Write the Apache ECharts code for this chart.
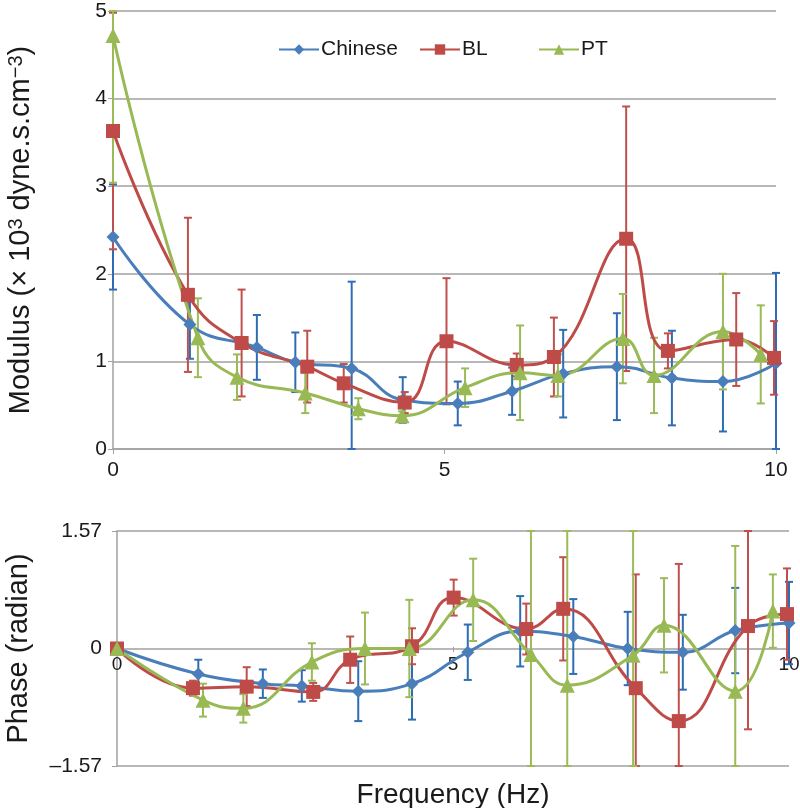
<!DOCTYPE html>
<html><head><meta charset="utf-8">
<script src="https://cdn.jsdelivr.net/npm/echarts@6/dist/echarts.min.js"></script>
<style>html,body{margin:0;padding:0;background:#fff}#c{width:800px;height:808px}</style>
</head><body><div id="c"></div>
<script>
// ---- Modulus panel data (×10^3 dyne.s.cm^-3) ----
const modChineseX = [0, 1.16, 2.17, 2.75, 3.6, 4.37, 5.2, 6.02, 6.79, 7.6, 8.43, 9.2, 10];
const modChinese  = [2.42, 1.42, 1.16, 0.99, 0.92, 0.56, 0.52, 0.66, 0.86, 0.94, 0.81, 0.77, 0.98];
const modChineseErr = [0.6, 0.39, 0.37, 0.34, 0.99, 0.26, 0.25, 0.27, 0.5, 0.61, 0.54, 0.57, 1.03];

const modBLX = [0, 1.13, 1.94, 2.93, 3.48, 4.4, 5.03, 6.09, 6.65, 7.74, 8.37, 9.4, 9.97];
const modBL  = [3.63, 1.76, 1.21, 0.94, 0.75, 0.53, 1.23, 0.96, 1.05, 2.40, 1.12, 1.25, 1.04];
const modBLErr = [1.35, 0.88, 0.61, 0.41, 0.22, 0.12, 0.72, 0.13, 0.45, 1.51, 0.2, 0.53, 0.42];

const modPTX = [0, 1.28, 1.87, 2.9, 3.7, 4.36, 5.31, 6.14, 6.71, 7.69, 8.16, 9.2, 9.77];
const modPT  = [4.72, 1.27, 0.82, 0.64, 0.46, 0.38, 0.70, 0.87, 0.84, 1.26, 0.84, 1.34, 1.08];
const modPTErr = [1.68, 0.45, 0.26, 0.23, 0.12, 0.05, 0.22, 0.54, 0.24, 0.51, 0.43, 0.66, 0.56];

// ---- Phase panel data (radian) ----
const phChineseX = [0, 1.21, 2.17, 2.75, 3.59, 4.39, 5.22, 6.0, 6.79, 7.6, 8.42, 9.2, 10];
const phChinese  = [0, -0.34, -0.47, -0.50, -0.57, -0.47, -0.05, 0.23, 0.16, 0.0, -0.05, 0.24, 0.34];
const phChineseErr = [0, 0.19, 0.19, 0.21, 0.4, 0.48, 0.37, 0.47, 0.5, 0.49, 0.5, 0.57, 0.55];

const phBLX = [0, 1.13, 1.93, 2.92, 3.47, 4.39, 5.01, 6.09, 6.64, 7.72, 8.36, 9.39, 9.97];
const phBL  = [0, -0.53, -0.51, -0.58, -0.15, 0.03, 0.68, 0.26, 0.53, -0.53, -0.97, 0.30, 0.46];
const phBLErr = [0, 0.1, 0.26, 0.12, 0.31, 0.24, 0.24, 0.34, 0.69, 1.52, 2.1, 1.38, 0.61];

const phPTX = [0, 1.28, 1.88, 2.9, 3.69, 4.35, 5.3, 6.16, 6.7, 7.68, 8.14, 9.2, 9.76];
const phPT  = [0, -0.69, -0.80, -0.18, 0.0, 0.0, 0.65, -0.08, -0.49, -0.09, 0.31, -0.57, 0.50];
const phPTErr = [0, 0.22, 0.19, 0.25, 0.48, 0.65, 0.55, 2.0, 2.3, 2.0, 0.63, 1.94, 0.49];

const modTicks = [0, 1, 2, 3, 4, 5];
const phaseTicks = [-1.57, 0, 1.57];
const freqTicks = [0, 5, 10];
const names = ['Chinese', 'BL', 'PT'];

const lineColors = ['#4A7EBB', '#BE4B48', '#98B954'];
const errColors = ['#2E6DB4', '#C0504D', '#9BBB59'];
const symbols = ['diamond', 'rect', 'triangle'];
const symbolSizes = [13, 14, 15];
const FONT = 'Liberation Sans, Arial, sans-serif';
const GRAY = '#A0A0A0';
const TXT = '#1a1a1a';

function pts(xs, vs) { return xs.map((x, i) => [x, vs[i]]); }
function errPts(xs, vs, es) {
  const out = [];
  xs.forEach((x, i) => { if (es[i] > 0) out.push([x, vs[i] - es[i], vs[i] + es[i]]); });
  return out;
}
function errRender(color) {
  return function (params, api) {
    const x = api.value(0), lo = api.value(1), hi = api.value(2);
    const cs = params.coordSys;
    const p1 = api.coord([x, hi]), p2 = api.coord([x, lo]);
    const top = Math.max(cs.y, p1[1]), bot = Math.min(cs.y + cs.height, p2[1]);
    const px = p1[0], w = 4;
    const st = { stroke: color, lineWidth: 2 };
    return { type: 'group', children: [
      { type: 'line', shape: { x1: px, y1: top, x2: px, y2: bot }, style: st },
      { type: 'line', shape: { x1: px - w, y1: top, x2: px + w, y2: top }, style: st },
      { type: 'line', shape: { x1: px - w, y1: bot, x2: px + w, y2: bot }, style: st }
    ]};
  };
}

const panels = [
  { xs: [modChineseX, modBLX, modPTX], vs: [modChinese, modBL, modPT], es: [modChineseErr, modBLErr, modPTErr] },
  { xs: [phChineseX, phBLX, phPTX], vs: [phChinese, phBL, phPT], es: [phChineseErr, phBLErr, phPTErr] }
];

const series = [];
panels.forEach((p, g) => {
  for (let k = 0; k < 3; k++) {
    series.push({
      type: 'custom', name: names[k] + ' err', xAxisIndex: g, yAxisIndex: g,
      renderItem: errRender(errColors[k]), encode: { x: 0, y: [1, 2] },
      data: errPts(p.xs[k], p.vs[k], p.es[k]), z: 2, silent: true
    });
  }
  for (let k = 0; k < 3; k++) {
    series.push({
      type: 'line', name: names[k], xAxisIndex: g, yAxisIndex: g,
      data: pts(p.xs[k], p.vs[k]), smooth: 0.45,
      symbol: symbols[k], symbolSize: symbolSizes[k],
      lineStyle: { color: lineColors[k], width: 3 },
      itemStyle: { color: lineColors[k] }, z: 3
    });
  }
});

const legendLefts = [273, 414, 533];
const legends = names.map((n, i) => ({
  data: [n], left: legendLefts[i], top: 34, itemWidth: 40, itemHeight: 13, itemGap: 0,
  textStyle: { fontSize: 21, color: TXT, fontFamily: FONT, padding: [0, 0, 0, -3] }
}));

const gridBase = { outerBoundsMode: 'none', containLabel: false };

const option = {
  animation: false,
  backgroundColor: '#fff',
  textStyle: { fontFamily: FONT },
  title: {
    text: 'Frequency (Hz)', left: 448, textAlign: 'center', top: 776,
    textStyle: { fontSize: 28, fontWeight: 'normal', color: TXT, fontFamily: FONT }
  },
  legend: legends,
  grid: [
    Object.assign({ left: 113, top: 11, width: 663, height: 438 }, gridBase),
    Object.assign({ left: 117, top: 531, width: 672, height: 235 }, gridBase),
    Object.assign({ left: 117, top: 531, width: 672, height: 116 }, gridBase)
  ],
  xAxis: [
    {
      type: 'value', gridIndex: 0, min: freqTicks[0], max: freqTicks[2], interval: 5,
      axisLine: { lineStyle: { color: GRAY, width: 1.5 } },
      axisTick: { show: true, length: 5, lineStyle: { color: GRAY } },
      axisLabel: { fontSize: 21, margin: 11, color: TXT, fontFamily: FONT },
      splitLine: { show: false }
    },
    {
      type: 'value', gridIndex: 1, min: freqTicks[0], max: freqTicks[2], interval: 5,
      axisLine: { show: false }, axisTick: { show: false }, axisLabel: { show: false },
      splitLine: { show: false }
    },
    {
      type: 'value', gridIndex: 2, min: freqTicks[0], max: freqTicks[2], interval: 5,
      axisLine: { show: false },
      axisTick: { show: true, length: 5, lineStyle: { color: GRAY } },
      axisLabel: { fontSize: 19, margin: 8, color: TXT, fontFamily: FONT },
      splitLine: { show: false }
    }
  ],
  yAxis: [
    {
      type: 'value', gridIndex: 0, min: modTicks[0], max: modTicks[modTicks.length - 1], interval: 1,
      name: 'Modulus (× 10{sup|3} dyne.s.cm{sup|−3})', nameLocation: 'middle', nameGap: 78,
      nameTextStyle: { fontSize: 29, color: TXT, fontFamily: FONT,
        rich: { sup: { fontSize: 20, verticalAlign: 'top', color: TXT, fontFamily: FONT, padding: [0, 0, 8, 0] } } },
      axisLine: { show: true, lineStyle: { color: GRAY, width: 1.5 } },
      axisTick: { show: true, length: 5, lineStyle: { color: GRAY } },
      axisLabel: { fontSize: 21, margin: 6, color: TXT, fontFamily: FONT },
      splitLine: { show: true, lineStyle: { color: GRAY, width: 1.5 } }
    },
    {
      type: 'value', gridIndex: 1, min: phaseTicks[0], max: phaseTicks[2], interval: 1.57,
      name: 'Phase (radian)', nameLocation: 'middle', nameGap: 84,
      nameTextStyle: { fontSize: 29, color: TXT, fontFamily: FONT },
      axisLine: { show: true, lineStyle: { color: GRAY, width: 1.5 } },
      axisTick: { show: true, length: 5, lineStyle: { color: GRAY } },
      axisLabel: { fontSize: 21, margin: 15, color: TXT, fontFamily: FONT,
        formatter: v => Math.abs(v) < 1e-6 ? '0' : (v < 0 ? '–1.57' : '1.57') },
      splitLine: { show: true, lineStyle: { color: GRAY, width: 1.5 } }
    },
    {
      type: 'value', gridIndex: 2, min: 0, max: 1, show: false
    }
  ],
  series: series
};

const chart = echarts.init(document.getElementById('c'), null, { renderer: 'canvas' });
chart.setOption(option);
</script>
</body></html>
